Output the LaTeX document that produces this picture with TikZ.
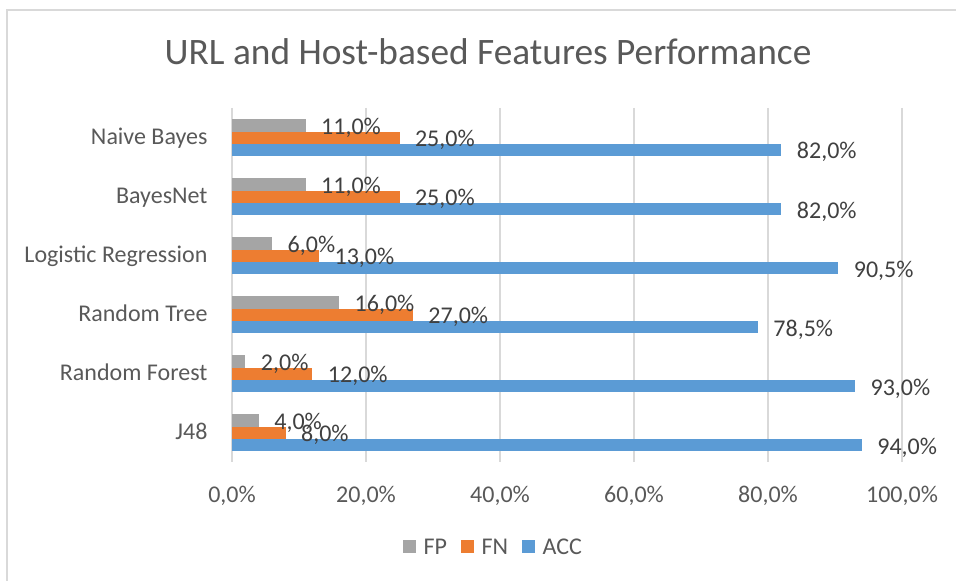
\documentclass[tikz,border=0pt]{standalone}
\usepackage{fontspec}
\setmainfont{Carlito}
\usetikzlibrary{positioning}
\definecolor{accblue}{HTML}{5B9BD5}
\definecolor{fnorange}{HTML}{ED7D31}
\definecolor{fpgray}{HTML}{A5A5A5}
\definecolor{gridgray}{HTML}{D9D9D9}
\definecolor{axistext}{HTML}{595959}
\definecolor{labeltext}{HTML}{404040}
\tikzset{
  gridline/.style={gridgray, line width=0.75pt},
  axislabel/.style={inner sep=0pt, text=axistext, font=\fontsize{9}{11}\selectfont},
  datalabel/.style={anchor=base west, inner sep=0pt, text=labeltext, font=\fontsize{9}{11}\selectfont}
}
\pgfkeys{/pgf/number format/pct/.style={fixed, fixed zerofill, precision=1,
  use comma, assume math mode=true, set decimal separator={,}}}
\newcommand{\pctlabel}[1]{\pgfmathprintnumber[pct]{#1}\%}
\begin{document}
\begin{tikzpicture}[x=0.375pt, y=-0.375pt]
  \path[use as bounding box] (0,0) rectangle (956,581);
  \begin{scope}
    \clip (0,0) rectangle (956,581);
    \draw[gridline] (7,10) rectangle (1000,620);
  \end{scope}
  \node[anchor=base, inner sep=0pt, text=axistext, font=\fontsize{14}{17}\selectfont]
    (title) at (488,65) {URL and Host-based Features Performance};
  \foreach \p [count=\k from 0] in {0,20,40,60,80,100} {
    \draw[gridline] (232+\p*6.7,108) -- (232+\p*6.7,462);
    \node[axislabel, anchor=base] (tick\k) at (232+\p*6.7,502) {\pctlabel{\p}};
  }
  \foreach \name/\fp/\fn/\acc [count=\i from 0] in
    {Naive Bayes/11/25/82, BayesNet/11/25/82, Logistic Regression/6/13/90.5,
     Random Tree/16/27/78.5, Random Forest/2/12/93, J48/4/8/94} {
    \pgfmathsetmacro{\c}{137.8+59*\i}
    \node[axislabel, anchor=base east] (cat\i) at (208,\c+7) {\name};
    \fill[fpgray] (232,\c-18.4) rectangle ++(\fp*6.7,12.3);
    \fill[fnorange] (232,\c-6.1) rectangle ++(\fn*6.7,12.2);
    \fill[accblue] (232,\c+6.1) rectangle ++(\acc*6.7,12.3);
    \node[datalabel] (fp\i) at (247+\fp*6.7,\c-3.2) {\pctlabel{\fp}};
    \node[datalabel] (fn\i) at (247+\fn*6.7,\c+9) {\pctlabel{\fn}};
    \node[datalabel] (acc\i) at (247+\acc*6.7,\c+21.2) {\pctlabel{\acc}};
  }
  \foreach \col/\lab/\x in {fpgray/FP/403, fnorange/FN/461, accblue/ACC/522} {
    \fill[\col] (\x,540) rectangle ++(13,13);
    \node[axislabel, anchor=base west] (leg\lab) at (\x+20,554) {\lab};
  }
\end{tikzpicture}
\end{document}
